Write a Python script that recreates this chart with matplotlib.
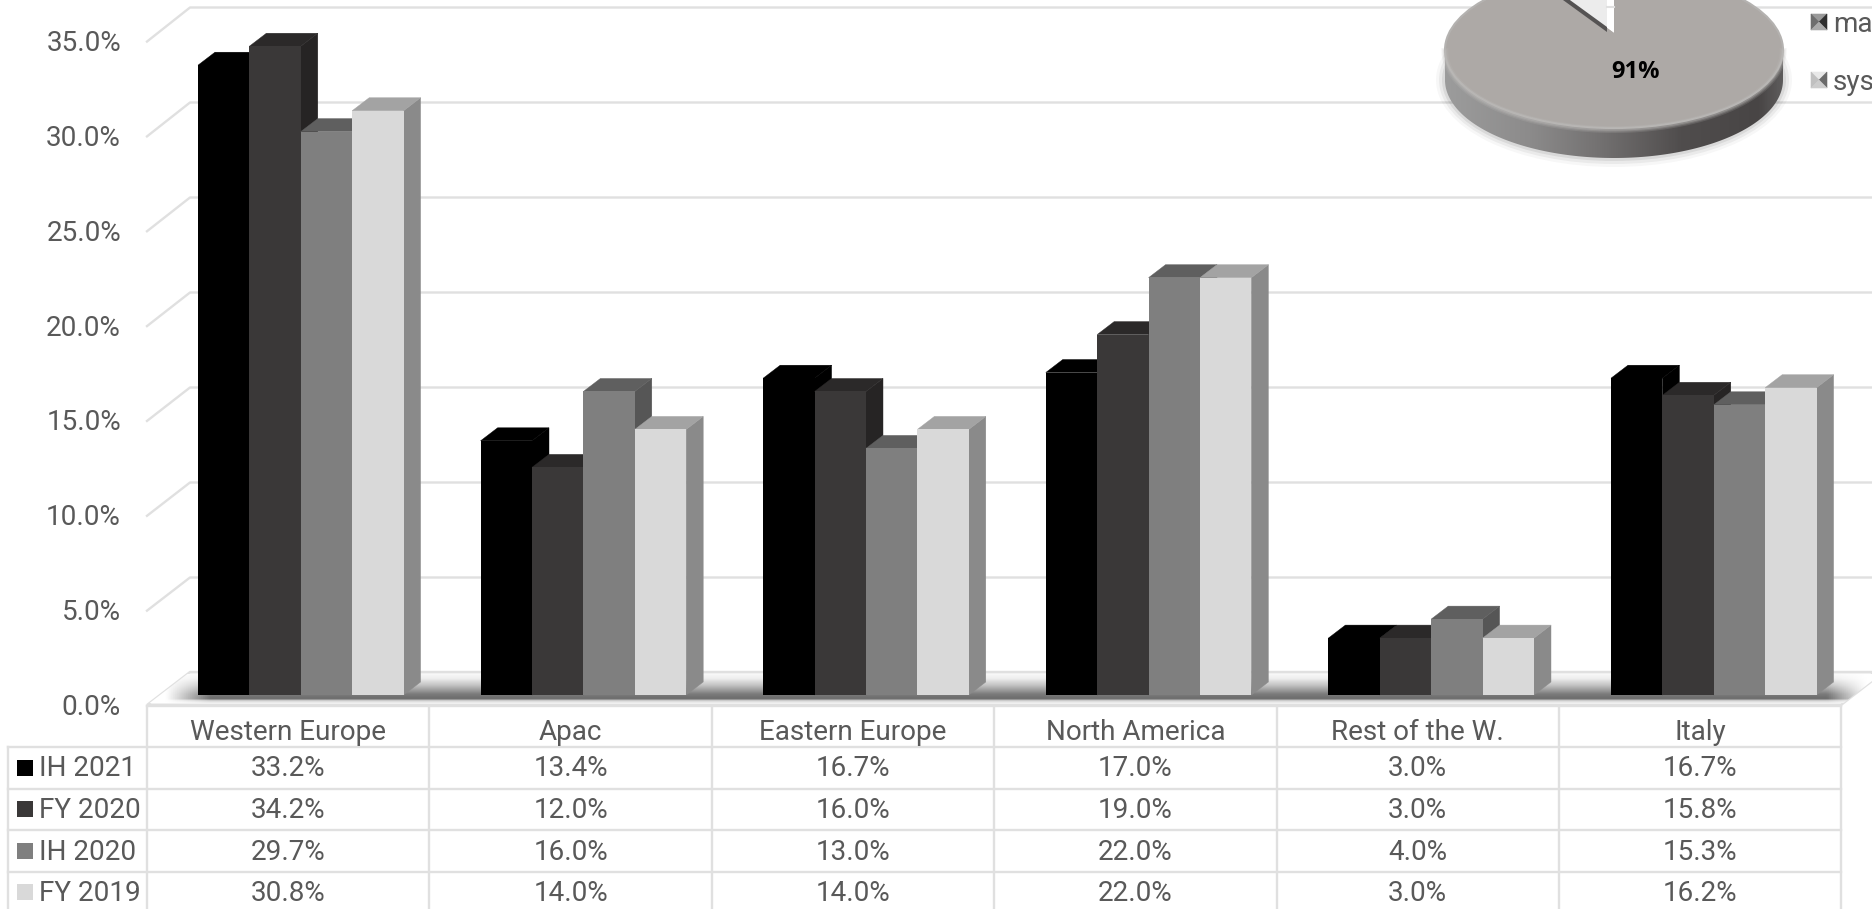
import numpy as np
import matplotlib
matplotlib.use('Agg')
import matplotlib.pyplot as plt
from matplotlib.patches import Ellipse, Polygon, Wedge, PathPatch
from matplotlib.path import Path
from matplotlib.colors import LinearSegmentedColormap

plt.rcParams['font.family'] = ['Roboto', 'DejaVu Sans']

regions = ['Western Europe', 'Apac', 'Eastern Europe', 'North America', 'Rest of the W.', 'Italy']
periods = ['IH 2021', 'FY 2020', 'IH 2020', 'FY 2019']
ih_2021 = [33.2, 13.4, 16.7, 17.0, 3.0, 16.7]
fy_2020 = [34.2, 12.0, 16.0, 19.0, 3.0, 15.8]
ih_2020 = [29.7, 16.0, 13.0, 22.0, 4.0, 15.3]
fy_2019 = [30.8, 14.0, 14.0, 22.0, 3.0, 16.2]
series = [ih_2021, fy_2020, ih_2020, fy_2019]
y_ticks = [0, 5, 10, 15, 20, 25, 30, 35]
pie_share = [9, 91]
pie_label = '91%'
pie_legend = ['ma', 'sys']

W, H = 1872, 909
front = ['#000000', '#3A3838', '#7F7F7F', '#D9D9D9']
top = ['#000000', '#2B2929', '#5F5F5F', '#A3A3A3']
side = ['#000000', '#262424', '#565656', '#8A8A8A']
TXT = '#595959'
GRID = '#E0E0E0'
FS = 20.1

# plot scale, pixels per category and per percent point
X0, Y0 = 147, 705
CAT = 282.4
STEP = 282.6
UNIT = 18.97
BAR = 51.4
DX, DY = 17, 13

fig = plt.figure(figsize=(W / 100, H / 100), dpi=100, facecolor='white')

# background layer in pixel coordinates: walls, floor, table, pie
bg = fig.add_axes([0, 0, 1, 1])
bg.set_xlim(0, W)
bg.set_ylim(H, 0)
bg.axis('off')

for t in y_ticks[1:]:
    yf = Y0 - UNIT * t + .5
    yb = 672.5 - 19 * t
    bg.plot([X0, 190, W], [yf, yb, yb], color=GRID, lw=1.7, zorder=1)

# floor with its soft shadow
floor = Polygon([(X0, 705), (190, 672), (W, 672), (W, 681), (1841, 705)],
                closed=True, fc='#F4F4F4', ec=GRID, lw=1.7, zorder=1)
bg.add_patch(floor)
ys = np.array([0, .15, .4, .7, .86, .92, 1.0])
vals = np.array([.97, .93, .75, .48, .42, .82, .93])
gy = np.interp(np.linspace(0, 1, 60), ys, vals)
gx = np.clip(np.minimum((np.linspace(X0, W, 800) - 165) / 45, (1868 - np.linspace(X0, W, 800)) / 40), 0, 1)
shade = 1 - np.outer(1 - gy, gx)
im = bg.imshow(shade, cmap='gray', vmin=0, vmax=1, extent=[X0, W, 703, 674], aspect='auto', zorder=1.1)
im.set_clip_path(floor)
bg.set_xlim(0, W)
bg.set_ylim(H, 0)

for t in y_ticks:
    bg.text(121, Y0 - UNIT * t + 2.5, f'{t:.1f}%', ha='right', va='center', fontsize=FS, color=TXT)

# table grid
col_x = [X0 + CAT * i for i in range(7)]
row_y = [706, 747, 789, 830, 872, 913]
for x in col_x:
    bg.plot([x, x], [706, H], color=GRID, lw=1.7, zorder=2)
bg.plot([X0, col_x[-1]], [706, 706], color=GRID, lw=1.7, zorder=2)
for y in row_y[1:5]:
    bg.plot([8, col_x[-1]], [y, y], color=GRID, lw=1.7, zorder=2)
bg.plot([8, 8], [747, H], color=GRID, lw=1.7, zorder=2)

for i, name in enumerate(regions):
    bg.text(X0 + CAT * (i + .5), 733, name, ha='center', va='center', fontsize=FS, color=TXT)
for s, name in enumerate(periods):
    yc = (row_y[s + 1] + row_y[s + 2]) / 2 - .5
    bg.add_patch(Polygon([(17, yc - 8), (33, yc - 8), (33, yc + 8), (17, yc + 8)], fc=front[s], ec='none'))
    bg.text(39, yc + 1.5, name, ha='left', va='center', fontsize=FS, color=TXT)
    for i, v in enumerate(series[s]):
        bg.text(X0 + CAT * (i + .5), yc + 1.5, f'{v:.1f}%', ha='center', va='center', fontsize=FS, color=TXT)

# pie: rim, top surface and the pulled out slice
PX, PY, RX, RY, RIM = 1614, 50, 169, 78, 30
a = np.linspace(0, np.pi, 200)
low_x = PX + RX * np.cos(a)
low_y = PY + RY * np.sin(a)
for grow, alpha in [(9, .03), (6, .05), (3, .07)]:
    bg.add_patch(Ellipse((PX, PY + RIM), 2 * (RX + grow), 2 * (RY + grow), fc='black', ec='none', alpha=alpha, zorder=3))
rim_pts = np.vstack([np.column_stack([low_x, low_y + RIM]), np.column_stack([low_x[::-1], low_y[::-1]])])
rim_path = Path(np.vstack([rim_pts, rim_pts[0]]), closed=True)
rim_cmap = LinearSegmentedColormap.from_list('rim', [(0, '#9C9C9C'), (.25, '#8C8B8B'), (.45, '#747272'),
                                                     (.7, '#504D4D'), (.93, '#484545'), (1, '#5E5C5C')])
rim = bg.imshow(np.linspace(0, 1, 400)[None, :], cmap=rim_cmap, extent=[PX - RX, PX + RX, PY + RY + RIM, PY],
                aspect='auto', zorder=3.1)
rim.set_clip_path(PathPatch(rim_path, transform=bg.transData))
bg.set_xlim(0, W)
bg.set_ylim(H, 0)
bg.add_patch(Ellipse((PX, PY), 2 * RX, 2 * RY, fc='#ADA9A6', ec='#B4B2B0', lw=1.5, zorder=3.2))
# soft bevel where the top surface turns into the rim
for width, alpha in [(5, .18), (3.2, .25), (1.6, .35)]:
    bg.plot(low_x, low_y + 1.5, color='#BEBCBA', lw=width, alpha=alpha, zorder=3.3)

pie_ax = fig.add_axes([(PX - RX) / W, (H - 33 - RY) / H, 2 * RX / W, 2 * RY / H])
wedges, _ = pie_ax.pie(pie_share, startangle=90, radius=1, colors=['white', '#ADA9A6'])
pie_ax.set_xlim(-1, 1)
pie_ax.set_ylim(-1, 1)
pie_ax.set_aspect('auto')
pie_ax.patch.set_alpha(0)
wedges[1].set_radius(.8)
wedges[0].set_radius(1.2)
# slice moved away from the centre, its dark edge below it
angle = 90 + 360 * pie_share[0] / 100
cx, cy = -7 / RX, 6 / RY
pie_ax.add_patch(Wedge((cx, cy - 5 / RY), 1, 90, angle, fc='#555353', ec='none'))
pie_ax.add_patch(Wedge((cx, cy), 1, 90, angle, fc='#ECECEC', ec='none'))
pie_ax.plot([cx + .002, 0], [(33 - 7) / RY] * 2, color=GRID, lw=1.5)

# bars on their own axes, y in percent and x in categories
ax = fig.add_axes([0, 0, 1, 1])
ax.patch.set_alpha(0)
ax.axis('off')
ax.set_xlim(-X0 / CAT, (W - X0) / CAT)
ax.set_ylim((Y0 - H) / UNIT, Y0 / UNIT)
bw = BAR / CAT
base = 10 / UNIT
ddx = DX / CAT
ddy = DY / UNIT
pos = np.arange(len(regions)) * STEP / CAT + 51 / CAT
for s, vals_s in enumerate(series):
    for i, v in enumerate(vals_s):
        x0 = pos[i] + s * bw
        x1 = x0 + bw
        h = base + v
        ax.fill([x1, x1 + ddx, x1 + ddx, x1], [base, base + ddy, h + ddy, h], fc=side[s], ec=side[s], lw=.3, zorder=3 + s)
        ax.fill([x0, x0 + ddx, x1 + ddx, x1], [h, h + ddy, h + ddy, h], fc=top[s], ec=top[s], lw=.3, zorder=3 + s)
        ax.bar(x0, v, bw, bottom=base, align='edge', color=front[s], lw=0, zorder=3 + s)

# pie label and clipped legend, on top of everything
over = fig.add_axes([0, 0, 1, 1])
over.patch.set_alpha(0)
over.axis('off')
over.set_xlim(0, W)
over.set_ylim(H, 0)
over.text(1636, 72, pie_label, ha='center', va='center', fontsize=17, fontweight='bold',
          family=['Open Sans', 'DejaVu Sans'], color='black')
key_cols = [('#9A9A9A', '#6E6E6E', '#303030', '#AAAAAA'), ('#E8E8E8', '#C0C0C0', '#6A6A6A', '#CCCCCC')]
for name, yc, cols in zip(pie_legend, [22, 80], key_cols):
    x0, x1, y0, y1 = 1811, 1827, yc - 8, yc + 8
    mid = ((x0 + x1) / 2, yc)
    tri = [[(x0, y0), (x1, y0)], [(x0, y0), (x0, y1)], [(x1, y0), (x1, y1)], [(x0, y1), (x1, y1)]]
    for pts, c in zip(tri, cols):
        over.add_patch(Polygon(pts + [mid], fc=c, ec=c, lw=.4))
    over.text(1833, yc + 2, name, ha='left', va='center', fontsize=FS, color=TXT, clip_on=True)

fig.savefig('out.png', dpi=100)
